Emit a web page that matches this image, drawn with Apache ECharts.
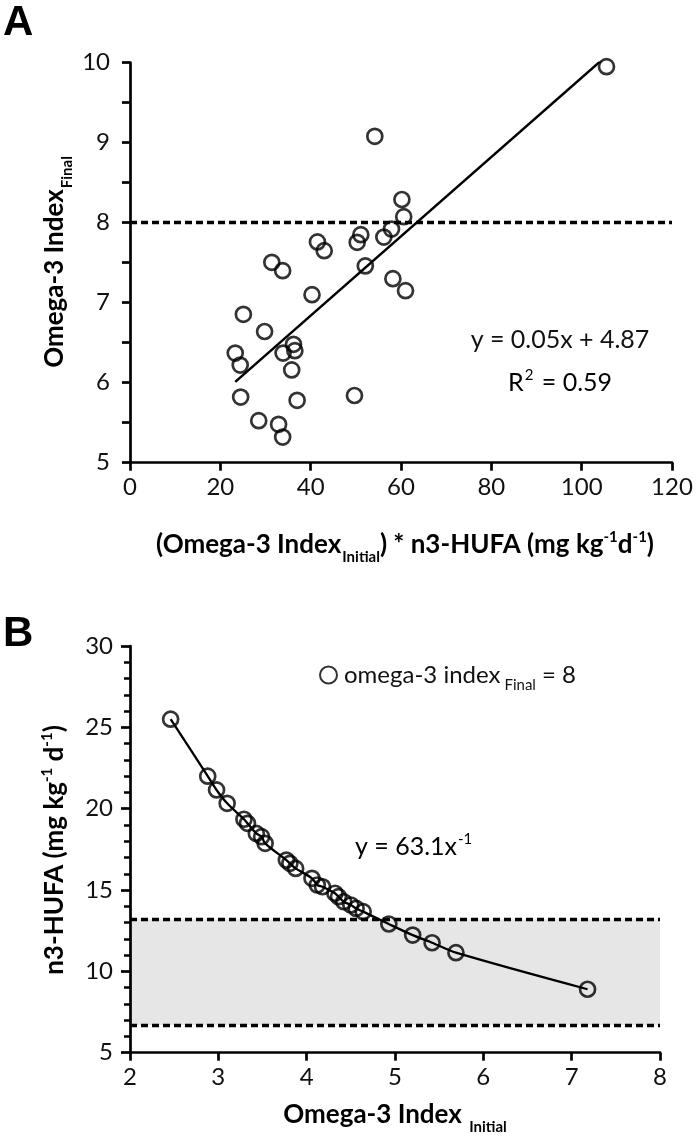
<!DOCTYPE html>
<html>
<head>
<meta charset="utf-8">
<script src="https://cdn.jsdelivr.net/npm/echarts@6/dist/echarts.min.js"></script>
<style>
html,body{margin:0;padding:0;background:#fff;}
#chart{width:697px;height:1140px;}
</style>
</head>
<body>
<div id="chart"></div>
<script>
// ---- Panel A data ----
const aX = [25.1, 31.4, 33.8, 41.5, 43.0, 40.3, 29.8, 23.3, 24.4, 33.9, 36.2, 36.5, 35.8, 24.5, 37.0, 28.5, 32.9, 33.8, 49.7, 50.3, 51.1, 52.1, 56.2, 57.9, 58.2, 61.0, 60.6, 60.2, 54.2, 105.5];
const aY = [6.855, 7.505, 7.40, 7.76, 7.65, 7.10, 6.64, 6.37, 6.22, 6.37, 6.48, 6.40, 6.16, 5.82, 5.78, 5.525, 5.48, 5.32, 5.84, 7.755, 7.85, 7.46, 7.82, 7.92, 7.30, 7.15, 8.075, 8.29, 9.08, 9.95];
const fitX = [23.3, 106.4];
const fitY = [6.01, 10.13];
const targetFinal = 8;
const aXTicks = [0, 120, 20];
const aYTicks = [5, 10, 1];

// ---- Panel B data ----
const bX = [2.46, 2.88, 2.98, 3.10, 3.29, 3.33, 3.43, 3.49, 3.53, 3.77, 3.81, 3.875, 4.06, 4.12, 4.18, 4.32, 4.36, 4.42, 4.50, 4.56, 4.64, 4.93, 5.20, 5.42, 5.69, 7.18];
const bY = [25.5, 22.0, 21.15, 20.33, 19.35, 19.10, 18.48, 18.28, 17.87, 16.84, 16.64, 16.33, 15.72, 15.31, 15.20, 14.80, 14.59, 14.28, 14.08, 13.87, 13.67, 12.91, 12.23, 11.76, 11.15, 8.90];
const doseRange = [6.7, 13.2];
const bXTicks = [2, 8, 1];
const bYTicks = [5, 30, 5];

const FONT = 'Lato';
const INK = '#111';
const zip = (xs, ys) => xs.map((x, i) => [x, ys[i]]);

const axisCommon = {
  type: 'value',
  z: 10,
  splitLine: { show: false },
  axisLine: { show: true, onZero: false, lineStyle: { color: '#000', width: 2.7 } },
  axisTick: { show: true, inside: false, length: 8, lineStyle: { color: '#000', width: 2.7 } },
  axisLabel: { fontSize: 24, fontFamily: FONT, color: INK }
};
function ax(extra) { return echarts.util.merge(echarts.util.clone(axisCommon), extra, true); }

const subStyle = { fontSize: 15, fontFamily: FONT, fontWeight: 'bold', color: INK, verticalAlign: 'middle', padding: [25, 0, 0, 1] };
const supStyle = { fontSize: 15, fontFamily: FONT, fontWeight: 'bold', color: INK, verticalAlign: 'middle', padding: [0, 0, 15, 0] };
const mainBold = { fontSize: 26, fontFamily: FONT, fontWeight: 'bold', color: INK, verticalAlign: 'middle' };

function txt(x, y, text, opts) {
  return Object.assign({
    type: 'text', x: x, y: y, silent: true,
    style: Object.assign({ text: text, fill: INK, font: '24px ' + FONT, align: 'left', verticalAlign: 'middle' }, opts || {})
  });
}

const chart = echarts.init(document.getElementById('chart'), null, { renderer: 'canvas' });
const option = {
  animation: false,
  backgroundColor: '#fff',
  grid: [
    { left: 130, top: 62.7, width: 542, height: 400 },
    { left: 130, top: 646, width: 530, height: 406.7 }
  ],
  xAxis: [
    ax({ gridIndex: 0, min: aXTicks[0], max: aXTicks[1], interval: aXTicks[2], axisLabel: { margin: 13 } }),
    ax({ gridIndex: 1, min: bXTicks[0], max: bXTicks[1], interval: bXTicks[2], axisLabel: { margin: 13 } })
  ],
  yAxis: [
    ax({ gridIndex: 0, min: aYTicks[0], max: aYTicks[1], interval: aYTicks[2], axisLabel: { margin: 20 },
         minorTick: { show: true, splitNumber: 2, length: 8, lineStyle: { color: '#000', width: 2.7 } } }),
    ax({ gridIndex: 1, min: bYTicks[0], max: bYTicks[1], interval: bYTicks[2], axisLabel: { margin: 17 },
         axisTick: { length: 9 },
         minorTick: { show: true, splitNumber: 5, length: 6, lineStyle: { color: '#000', width: 2.5 } } })
  ],
  legend: {
    show: true,
    left: 314, top: 658,
    itemWidth: 17, itemHeight: 17, itemGap: 10,
    data: ['omega3final'],
    formatter: function () { return '{m|omega-3 index}{s|Final}{e|= 8}'; },
    textStyle: {
      rich: {
        m: { fontSize: 24, fontFamily: FONT, color: INK, verticalAlign: 'middle', padding: [0, 0, 0, 2] },
        s: { fontSize: 15, fontFamily: FONT, color: INK, verticalAlign: 'middle', padding: [20, 0, 0, 4] },
        e: { fontSize: 24, fontFamily: FONT, color: INK, verticalAlign: 'middle', padding: [0, 0, 0, 6] }
      }
    }
  },
  series: [
    {
      type: 'scatter', name: 'A', xAxisIndex: 0, yAxisIndex: 0, z: 4,
      data: zip(aX, aY), symbol: 'circle', symbolSize: 15,
      itemStyle: { color: 'rgba(0,0,0,0)', borderColor: '#000', borderWidth: 2.7 },
      markLine: {
        silent: true, symbol: ['none', 'none'], label: { show: false },
        lineStyle: { color: '#000', width: 3.4, type: [7, 4] },
        data: [{ yAxis: targetFinal }]
      }
    },
    {
      type: 'line', name: 'fitA', xAxisIndex: 0, yAxisIndex: 0, z: 3,
      data: zip(fitX, fitY), symbol: 'none', showSymbol: false,
      lineStyle: { color: '#000', width: 2.5 }
    },
    {
      type: 'line', name: 'curveB', xAxisIndex: 1, yAxisIndex: 1, z: 3,
      data: zip(bX, bY), symbol: 'none', showSymbol: false, smooth: 0.3,
      lineStyle: { color: '#000', width: 2.3 }
    },
    {
      type: 'scatter', name: 'omega3final', xAxisIndex: 1, yAxisIndex: 1, z: 4,
      data: zip(bX, bY), symbol: 'circle', symbolSize: 15,
      itemStyle: { color: 'rgba(0,0,0,0)', borderColor: '#000', borderWidth: 2.7 },
      markArea: {
        silent: true, itemStyle: { color: '#e6e6e6' },
        data: [[{ yAxis: doseRange[0] }, { yAxis: doseRange[1] }]]
      },
      markLine: {
        silent: true, symbol: ['none', 'none'], label: { show: false },
        lineStyle: { color: '#000', width: 3.4, type: [7, 4] },
        data: [{ yAxis: doseRange[0] }, { yAxis: doseRange[1] }]
      }
    }
  ],
  graphic: [
    txt(3, 23, 'A', { font: 'bold 42px "Liberation Sans"', fill: '#000' }),
    txt(3, 634, 'B', { font: 'bold 42px "Liberation Sans"', fill: '#000' }),
    // Panel A y title
    { type: 'text', x: 55, y: 262, rotation: Math.PI / 2, silent: true,
      style: { text: '{m|Omega-3 Index}{s|Final}', align: 'center', verticalAlign: 'middle',
               rich: { m: mainBold, s: subStyle } } },
    // Panel A x title
    { type: 'text', x: 405, y: 545, silent: true,
      style: { text: '{m|(Omega-3 Index}{s|Initial}{m|) * n3-HUFA (mg kg}{p|-1}{m|d}{p|-1}{m|)}', align: 'center', verticalAlign: 'middle',
               rich: { m: mainBold, s: subStyle, p: supStyle } } },
    // Panel A equation
    txt(560, 340, 'y = 0.05x + 4.87', { align: 'center', font: '25px ' + FONT }),
    { type: 'text', x: 560, y: 383, silent: true,
      style: { text: '{m|R}{p|2}{m| = 0.59}', align: 'center', verticalAlign: 'middle',
               rich: { m: { fontSize: 25, fontFamily: FONT, color: INK, verticalAlign: 'middle' },
                       p: { fontSize: 15, fontFamily: FONT, color: INK, verticalAlign: 'middle', padding: [0, 2, 16, 1] } } } },
    // Panel B y title
    { type: 'text', x: 55, y: 850, rotation: Math.PI / 2, silent: true,
      style: { text: '{m|n3-HUFA (mg kg}{p|-1}{m| d}{p|-1}{m|)}', align: 'center', verticalAlign: 'middle',
               rich: { m: mainBold, p: supStyle } } },
    // Panel B x title
    { type: 'text', x: 395, y: 1115, silent: true,
      style: { text: '{m|Omega-3 Index }{s|Initial}', align: 'center', verticalAlign: 'middle',
               rich: { m: mainBold, s: subStyle } } },
    // Panel B equation
    { type: 'text', x: 355, y: 847, silent: true,
      style: { text: '{m|y = 63.1x}{p|-1}', align: 'left', verticalAlign: 'middle',
               rich: { m: { fontSize: 25, fontFamily: FONT, color: INK, verticalAlign: 'middle' },
                       p: { fontSize: 15, fontFamily: FONT, color: INK, verticalAlign: 'middle', padding: [0, 0, 16, 1] } } } },
    txt(166, 977, 'Study Dose Range', { font: '23px ' + FONT })
  ]
};
chart.setOption(option);
</script>
</body>
</html>
